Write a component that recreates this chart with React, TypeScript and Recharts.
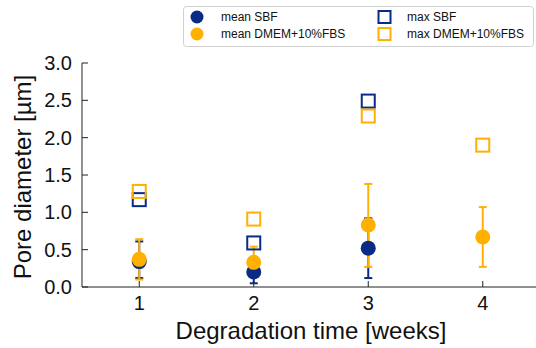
import React from 'react';
import { ComposedChart, Scatter, XAxis, YAxis, ErrorBar, Legend, Label } from 'recharts';

// ---- data ----
const weeks = [1, 2, 3, 4];
const meanSBF: (number | null)[] = [0.34, 0.2, 0.52, null];
const sbfLow: (number | null)[] = [0.12, 0.05, 0.12, null];
const sbfHigh: (number | null)[] = [0.61, 0.35, 0.92, null];
const meanDMEM: (number | null)[] = [0.37, 0.33, 0.83, 0.67];
const dmemLow: (number | null)[] = [0.1, 0.15, 0.27, 0.27];
const dmemHigh: (number | null)[] = [0.64, 0.54, 1.38, 1.07];
const maxSBF: (number | null)[] = [1.17, 0.59, 2.49, null];
const maxDMEM: (number | null)[] = [1.28, 0.91, 2.29, 1.9];

const xTicks = [1, 2, 3, 4];
const yTicks = [0, 0.5, 1.0, 1.5, 2.0, 2.5, 3.0];
const legendLabels = ['mean SBF', 'mean DMEM+10%FBS', 'max SBF', 'max DMEM+10%FBS'];

const BLUE = '#0a2b85';
const YELLOW = '#ffb000';
const AXIS = '#222';
const FONT = '"Liberation Sans", Arial, sans-serif';

type Row = { x: number; y: number; err?: [number, number] };

function buildMean(vals: (number | null)[], lo: (number | null)[], hi: (number | null)[]): Row[] {
  const out: Row[] = [];
  weeks.forEach((w, i) => {
    const v = vals[i];
    if (v == null) return;
    out.push({ x: w, y: v, err: [v - (lo[i] as number), (hi[i] as number) - v] });
  });
  return out;
}
function buildPts(vals: (number | null)[]): Row[] {
  const out: Row[] = [];
  weeks.forEach((w, i) => {
    const v = vals[i];
    if (v != null) out.push({ x: w, y: v });
  });
  return out;
}

const sbfData = buildMean(meanSBF, sbfLow, sbfHigh);
const dmemData = buildMean(meanDMEM, dmemLow, dmemHigh);
const maxSbfData = buildPts(maxSBF);
const maxDmemData = buildPts(maxDMEM);

const NoShape = () => <g />;
const circleShape = (color: string) => (p: any) => (
  <circle cx={p.cx} cy={p.cy} r={7.5} fill={color} />
);
const squareShape = (color: string) => (p: any) => (
  <rect x={p.cx - 6.5} y={p.cy - 6.5} width={13} height={13} fill="none" stroke={color} strokeWidth={2} />
);

const LeftTick = (p: any) => (
  <g>
    <line x1={p.x + 10} x2={p.x + 16} y1={p.y} y2={p.y} stroke={AXIS} strokeWidth={1} />
    <text x={p.x} y={p.y} dy={7} textAnchor="end" fontSize={20} fontFamily={FONT} fill="#111">
      {Number(p.payload.value).toFixed(1)}
    </text>
  </g>
);
const BottomTick = (p: any) => (
  <g>
    <line x1={p.x} x2={p.x} y1={p.y} y2={p.y - 6} stroke={AXIS} strokeWidth={1} />
    <text x={p.x} y={p.y} dy={23} textAnchor="middle" fontSize={20} fontFamily={FONT} fill="#111">
      {p.payload.value}
    </text>
  </g>
);
const TopTick = (p: any) => (
  <line x1={p.x} x2={p.x} y1={p.y} y2={p.y + 6} stroke={AXIS} strokeWidth={1} />
);
const RightTick = (p: any) => (
  <line x1={p.x} x2={p.x - 6} y1={p.y} y2={p.y} stroke={AXIS} strokeWidth={1} />
);

const LegendBox = () => (
  <svg width={351} height={41} style={{ display: 'block' }}>
    <rect x={0.5} y={0.5} width={350} height={40} rx={3} fill="#fff" stroke="#d0d0d0" />
    <circle cx={14} cy={11} r={6.5} fill={BLUE} />
    <circle cx={14} cy={28} r={6.5} fill={YELLOW} />
    <rect x={195.5} y={5} width={12} height={12} fill="none" stroke={BLUE} strokeWidth={2} />
    <rect x={195.5} y={22} width={12} height={12} fill="none" stroke={YELLOW} strokeWidth={2} />
    <text x={38} y={15} fontSize={12} fontFamily={FONT} fill="#111">{legendLabels[0]}</text>
    <text x={38} y={32} fontSize={12} fontFamily={FONT} fill="#111">{legendLabels[1]}</text>
    <text x={224} y={15} fontSize={12} fontFamily={FONT} fill="#111">{legendLabels[2]}</text>
    <text x={224} y={32} fontSize={12} fontFamily={FONT} fill="#111">{legendLabels[3]}</text>
  </svg>
);

export default function App() {
  return (
    <div style={{ position: 'absolute', left: 0, top: 0, width: 536, height: 348, overflow: 'hidden', background: '#fff', fontFamily: FONT }}>
      <ComposedChart width={545} height={348} margin={{ top: 63, right: 5, bottom: 0, left: 0 }}>
        <XAxis
          type="number"
          dataKey="x"
          xAxisId="main"
          domain={[0.5, 4.5]}
          ticks={xTicks}
          allowDataOverflow
          height={61}
          tickSize={0}
          tickMargin={0}
          tickLine={false}
          axisLine={{ stroke: AXIS, strokeWidth: 1 }}
          tick={BottomTick}
          interval={0}
        >
          <Label
            content={(p: any) => (
              <text x={p.viewBox.x + p.viewBox.width / 2} y={p.viewBox.y + 52} textAnchor="middle" fontSize={24} fontFamily={FONT} fill="#111">
                Degradation time [weeks]
              </text>
            )}
          />
        </XAxis>
        <XAxis
          type="number"
          xAxisId="top"
          orientation="top"
          domain={[0.5, 4.5]}
          ticks={xTicks}
          allowDataOverflow
          height={0}
          tickSize={0}
          tickMargin={0}
          tickLine={false}
          axisLine={{ stroke: AXIS, strokeWidth: 1 }}
          tick={TopTick}
          interval={0}
        />
        <YAxis
          type="number"
          dataKey="y"
          yAxisId="main"
          domain={[0, 3]}
          ticks={yTicks}
          allowDataOverflow
          width={82}
          tickSize={0}
          tickMargin={10}
          tickLine={false}
          axisLine={{ stroke: AXIS, strokeWidth: 1 }}
          tick={LeftTick}
          interval={0}
        >
          <Label
            content={(p: any) => {
              const cx = 30.5;
              const cy = p.viewBox.y + p.viewBox.height / 2 + 2;
              return (
                <text x={cx} y={cy} transform={`rotate(-90 ${cx} ${cy})`} textAnchor="middle" fontSize={24} fontFamily={FONT} fill="#111">
                  Pore diameter [µm]
                </text>
              );
            }}
          />
        </YAxis>
        <YAxis
          type="number"
          yAxisId="right"
          orientation="right"
          domain={[0, 3]}
          ticks={yTicks}
          allowDataOverflow
          width={0}
          tickSize={0}
          tickMargin={0}
          tickLine={false}
          axisLine={{ stroke: AXIS, strokeWidth: 1 }}
          tick={RightTick}
          interval={0}
        />

        {/* error bars first (blue, then yellow) */}
        <Scatter xAxisId="main" yAxisId="main" data={sbfData} dataKey="y" shape={NoShape} legendType="none" isAnimationActive={false}>
          <ErrorBar dataKey="err" direction="y" width={4} stroke={BLUE} strokeWidth={2} isAnimationActive={false} />
        </Scatter>
        <Scatter xAxisId="main" yAxisId="main" data={dmemData} dataKey="y" shape={NoShape} legendType="none" isAnimationActive={false}>
          <ErrorBar dataKey="err" direction="y" width={4} stroke={YELLOW} strokeWidth={2} isAnimationActive={false} />
        </Scatter>

        {/* mean markers */}
        <Scatter name={legendLabels[0]} xAxisId="main" yAxisId="main" data={sbfData} dataKey="y" fill={BLUE} shape={circleShape(BLUE)} isAnimationActive={false} />
        <Scatter name={legendLabels[1]} xAxisId="main" yAxisId="main" data={dmemData} dataKey="y" fill={YELLOW} shape={circleShape(YELLOW)} isAnimationActive={false} />

        {/* max markers */}
        <Scatter name={legendLabels[2]} xAxisId="main" yAxisId="main" data={maxSbfData} dataKey="y" fill={BLUE} shape={squareShape(BLUE)} isAnimationActive={false} />
        <Scatter name={legendLabels[3]} xAxisId="main" yAxisId="main" data={maxDmemData} dataKey="y" fill={YELLOW} shape={squareShape(YELLOW)} isAnimationActive={false} />

        <Legend
          layout="horizontal"
          verticalAlign="middle"
          align="center"
          content={() => <LegendBox />}
          wrapperStyle={{ left: 183, top: 6, width: 351, height: 41 }}
        />
      </ComposedChart>
    </div>
  );
}
